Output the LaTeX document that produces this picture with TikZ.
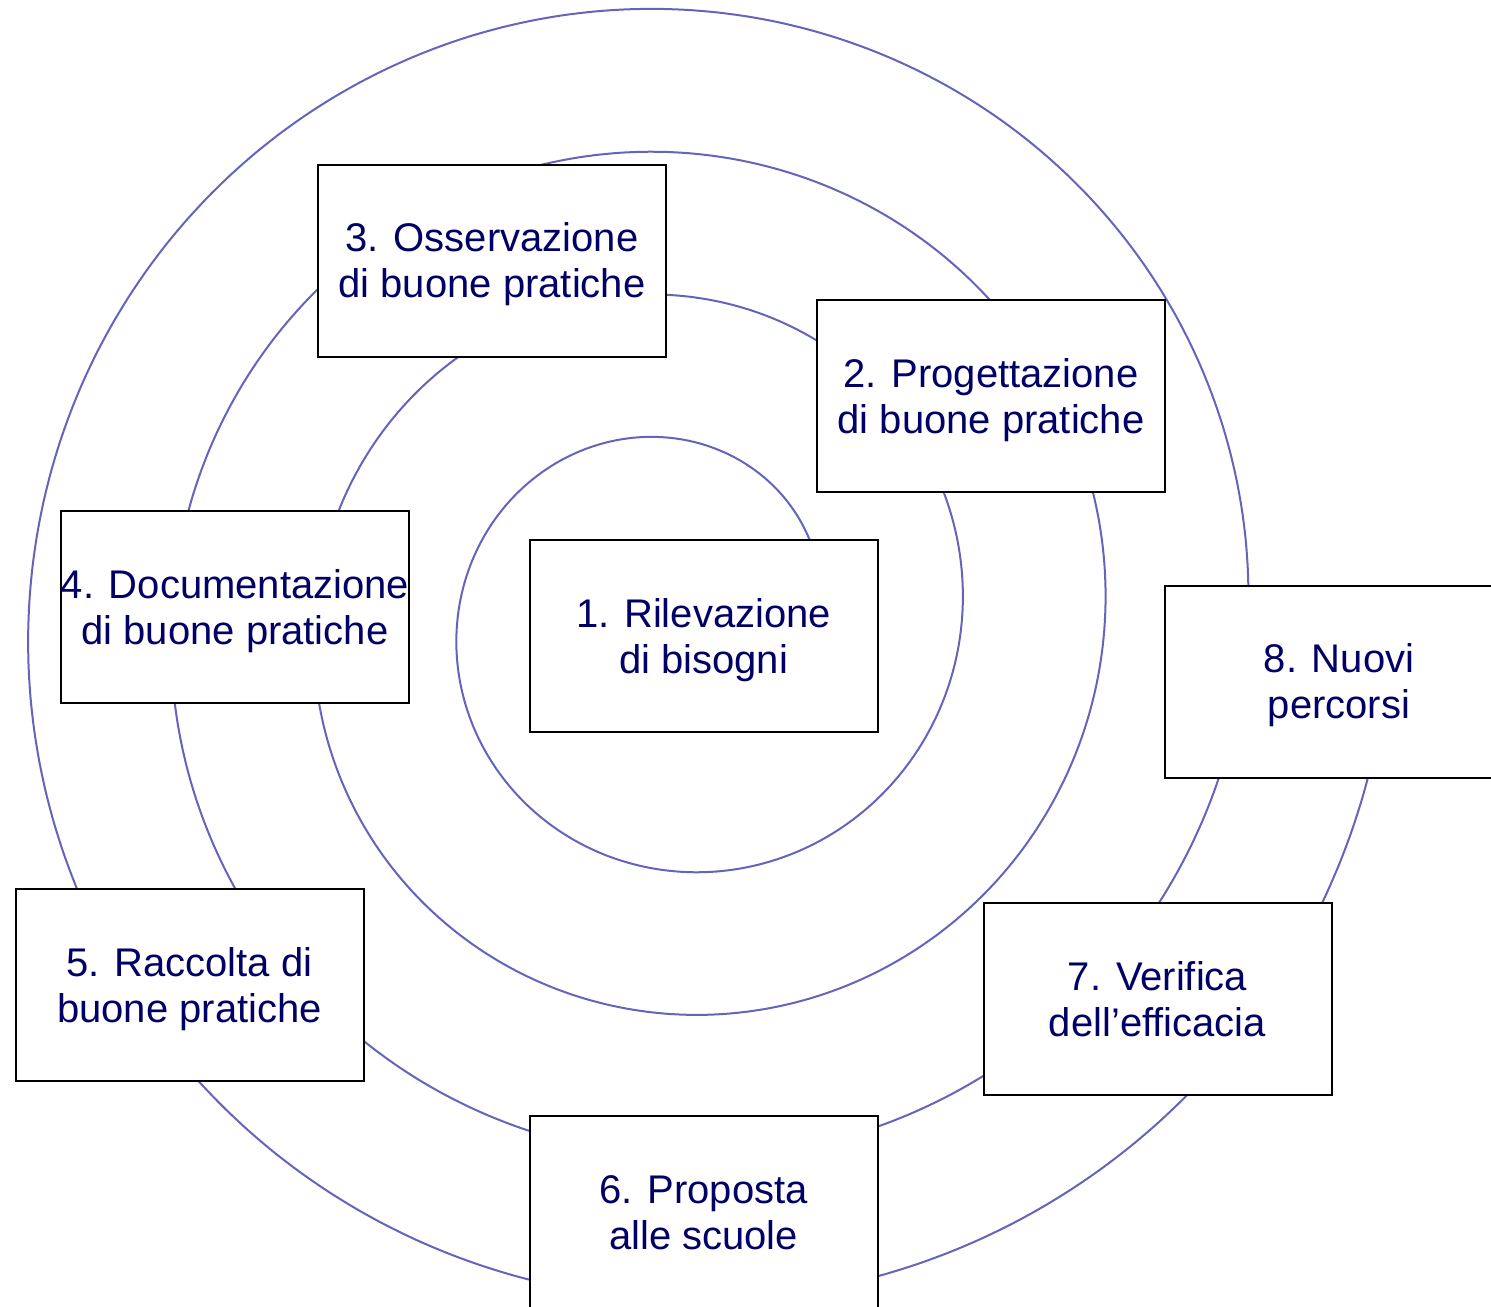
\documentclass[tikz,border=0pt]{standalone}
\usepackage{fontspec}
\setmainfont{Liberation Sans}
\usepackage{xcolor}
\definecolor{spiralblue}{RGB}{100,100,186}
\definecolor{navytext}{RGB}{0,0,102}

\begin{document}
\begin{tikzpicture}[x=0.5pt,y=-0.5pt,
  stage/.style={draw,line width=1pt,fill=white,minimum width=174pt,minimum height=96pt,
    inner sep=0pt,align=center,text=navytext,text height=37pt,text depth=0pt,
    font=\fontsize{20}{23}\selectfont}]
\useasboundingbox (0,0) rectangle (1491,1306);
\clip (0,0) rectangle (1491,1306);
% spiral, four turns, drawn under the boxes
\draw[spiralblue,line width=1pt] plot[domain=0:1440,samples=500,smooth]
  ({674+(145+0.39722*\x)*cos(\x)},{619-(145+0.39722*\x)*sin(\x)});
\node[stage] (rilev) at (703.5,636) {1. Rilevazione\\di bisogni};
\node[stage] (proget) at (991,396) {2. Progettazione\\di buone pratiche};
\node[stage] (osserv) at (492,260.5) {3. Osservazione\\di buone pratiche};
\node[stage] (docum) at (235,607) {4. Documentazione\\di buone pratiche};
\node[stage] (raccol) at (189.5,985) {5. Raccolta di\\buone pratiche};
\node[stage] (propos) at (703.5,1212) {6. Proposta\\alle scuole};
\node[stage] (verif) at (1157.5,999) {7. Verifica\\dell’efficacia};
\node[stage] (nuovi) at (1339,681.5) {8. Nuovi\\percorsi};
\end{tikzpicture}
\end{document}
